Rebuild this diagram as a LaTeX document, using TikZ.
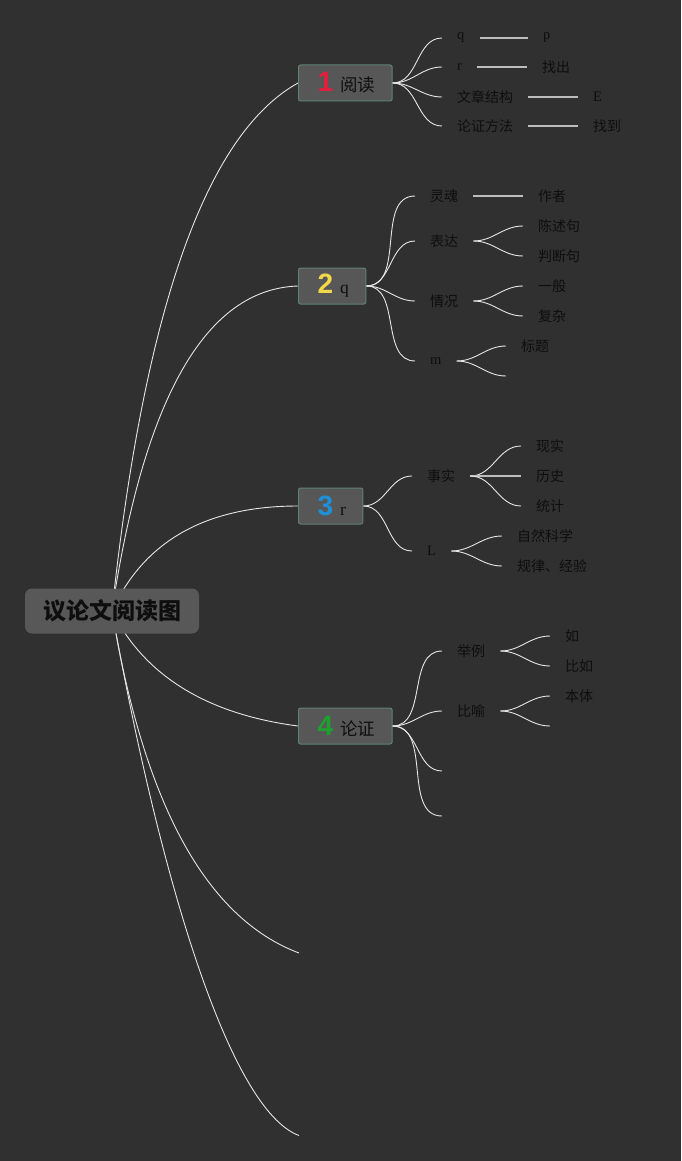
\documentclass[tikz,border=0pt]{standalone}
\usepackage{fontspec}
\setmainfont{Liberation Serif}
\newfontfamily\cjk{Noto Sans CJK SC}
\newfontfamily\numf{Liberation Sans}
\definecolor{bg}{HTML}{303030}
\definecolor{boxfill}{HTML}{575757}
\definecolor{rootfill}{HTML}{585858}
\definecolor{boxline}{HTML}{5E8272}
\definecolor{txt}{HTML}{0E0E0E}
\definecolor{link}{HTML}{E6E6E6}
\definecolor{n1}{HTML}{E0203C}
\definecolor{n2}{HTML}{F2D84A}
\definecolor{n3}{HTML}{1E90D8}
\definecolor{n4}{HTML}{1FA02E}
\pgfdeclarelayer{back}
\pgfsetlayers{back,main}
\newcommand{\bignum}[2]{\hspace{2pt}{\numf\bfseries\fontsize{28}{28}\selectfont\textcolor{#1}{#2}}\hspace{7pt}}
\begin{document}
\begin{tikzpicture}[x=1pt,y=-1pt,
  rootbox/.style={fill=rootfill, rounded corners=7pt, minimum width=174pt, minimum height=45pt,
    text=txt, font=\cjk\bfseries\fontsize{23}{26}\selectfont, inner sep=0pt},
  topicbox/.style={fill=boxfill, draw=boxline, line width=1pt, rounded corners=2pt,
    minimum height=36pt, inner xsep=17pt, inner ysep=0pt, text=txt, anchor=west,
    font=\cjk\fontsize{17.5}{20}\selectfont},
  lbl/.style={inner xsep=15pt, inner ysep=1pt, anchor=west, text=txt,
    font=\cjk\fontsize{14}{16}\selectfont},
  lat/.style={lbl, font=\rmfamily\fontsize{14.5}{16}\selectfont},
  conn/.style={draw=link, line width=0.9pt},
  sline/.style={draw=link!82!black, line width=1.4pt},
  sub/.style={conn, out=0, in=180}
]
\begin{pgfonlayer}{back}
\fill[bg] (0,0) rectangle (681,1161);
\end{pgfonlayer}
\useasboundingbox (0,0) rectangle (681,1161);

% root
\node[rootbox] (root) at (112,611) {议论文阅读图};

% main topics
\node[topicbox] (t1) at (298,83) {\bignum{n1}{1}阅读};
\node[topicbox] (t2) at (298,286) {\bignum{n2}{2}{\rmfamily q}};
\node[topicbox] (t3) at (298,506) {\bignum{n3}{3}{\rmfamily r}};
\node[topicbox] (t4) at (298,726) {\bignum{n4}{4}论证};
\coordinate (e5) at (299,953);
\coordinate (e6) at (299,1135.5);

\begin{pgfonlayer}{back}
\draw[conn] (root.center) .. controls (144,310) and (206,134) .. (t1.west);
\draw[conn] (root.center) .. controls (144,397) and (206,289) .. (t2.west);
\draw[conn] (root.center) .. controls (144,541) and (206,506) .. (t3.west);
\draw[conn] (root.center) .. controls (144,675) and (206,714) .. (t4.west);
\draw[conn] (root.center) .. controls (144,804) and (206,918) .. (e5);
\draw[conn] (root.center) .. controls (160,880) and (230,1110) .. (e6);
\end{pgfonlayer}

% ---- topic 1
\node[lat] (a1) at (442,38) {q};
\node[lat] (a1b) at (528,38) {p};
\node[lat] (a2) at (442,67) {r};
\node[lbl] (a2b) at (527,67) {找出};
\node[lbl] (a3) at (442,97) {文章结构};
\node[lat] (a3b) at (578,97) {E};
\node[lbl] (a4) at (442,126) {论证方法};
\node[lbl] (a4b) at (578,126) {找到};
\foreach \c in {a1,a2,a3,a4} \draw[sub] (t1.east) to (\c.west);
\draw[sline] (a1.east) -- (a1b.west);
\draw[sline] (a2.east) -- (a2b.west);
\draw[sline] (a3.east) -- (a3b.west);
\draw[sline] (a4.east) -- (a4b.west);

% ---- topic 2
\node[lbl] (b1) at (415,196) {灵魂};
\node[lbl] (b1a) at (523,196) {作者};
\node[lbl] (b2) at (415,241) {表达};
\node[lbl] (b2a) at (523,226) {陈述句};
\node[lbl] (b2b) at (523,256) {判断句};
\node[lbl] (b3) at (415,301) {情况};
\node[lbl] (b3a) at (523,286) {一般};
\node[lbl] (b3b) at (523,316) {复杂};
\node[lat] (b4) at (415,361) {m};
\node[lbl] (b4a) at (506,346) {标题};
\coordinate (b4b) at (506,376);
\foreach \c in {b1,b2,b3,b4} \draw[sub] (t2.east) to (\c.west);
\draw[sline] (b1.east) -- (b1a.west);
\draw[sub] (b2.east) to (b2a.west);
\draw[sub] (b2.east) to (b2b.west);
\draw[sub] (b3.east) to (b3a.west);
\draw[sub] (b3.east) to (b3b.west);
\draw[sub] (b4.east) to (b4a.west);
\draw[sub] (b4.east) to (b4b);

% ---- topic 3
\node[lbl] (c1) at (412,476) {事实};
\node[lbl] (c1a) at (521,446) {现实};
\node[lbl] (c1b) at (521,476) {历史};
\node[lbl] (c1c) at (521,506) {统计};
\node[lat] (c2) at (412,551) {L};
\node[lbl] (c2a) at (502,536) {自然科学};
\node[lbl] (c2b) at (502,566) {规律、经验};
\draw[sub] (t3.east) to (c1.west);
\draw[sub] (t3.east) to (c2.west);
\draw[sub] (c1.east) to (c1a.west);
\draw[sline] (c1.east) -- (c1b.west);
\draw[sub] (c1.east) to (c1c.west);
\draw[sub] (c2.east) to (c2a.west);
\draw[sub] (c2.east) to (c2b.west);

% ---- topic 4
\node[lbl] (d1) at (442,651) {举例};
\node[lbl] (d1a) at (550,636) {如};
\node[lbl] (d1b) at (550,666) {比如};
\node[lbl] (d2) at (442,711) {比喻};
\node[lbl] (d2a) at (550,696) {本体};
\coordinate (d2b) at (550,726);
\coordinate (d3) at (442,771);
\coordinate (d4) at (442,816);
\draw[sub] (t4.east) to (d1.west);
\draw[sub] (t4.east) to (d2.west);
\draw[sub] (t4.east) to (d3);
\draw[sub] (t4.east) to (d4);
\draw[sub] (d1.east) to (d1a.west);
\draw[sub] (d1.east) to (d1b.west);
\draw[sub] (d2.east) to (d2a.west);
\draw[sub] (d2.east) to (d2b);
\end{tikzpicture}
\end{document}
